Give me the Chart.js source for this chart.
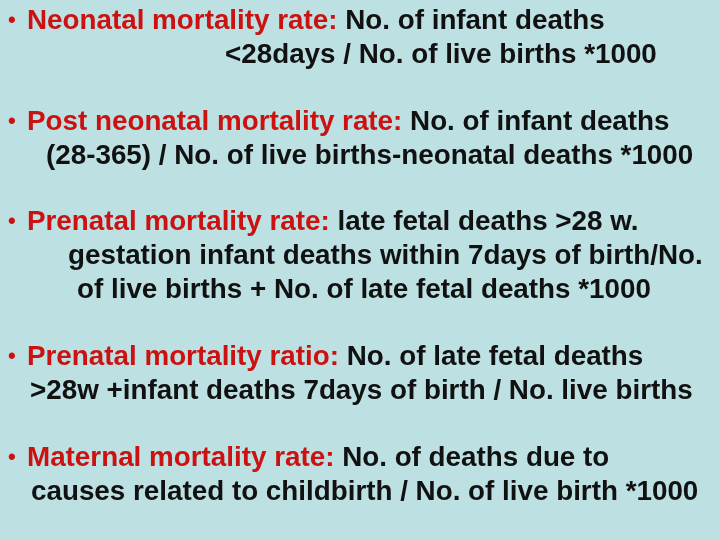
<!DOCTYPE html>
<html><head><meta charset="utf-8">
<script src="https://cdn.jsdelivr.net/npm/chart.js@4"></script>
<style>
html,body{margin:0;padding:0;}
body{width:720px;height:540px;background:#bde0e3;position:relative;overflow:hidden;font-family:"Liberation Sans",Arial,sans-serif;font-weight:bold;font-size:27.8px;color:#111;}
#c{position:absolute;left:0;top:0;}
.l{position:absolute;white-space:pre;line-height:34px;}
.r{color:#cc1111;}
.b{position:absolute;font-size:22px;line-height:34px;color:#cc1111;}
</style></head><body>
<canvas id="c" width="720" height="540"></canvas>
<div id="t"></div>
<script>
const bulletTops = [3, 104, 204, 339, 440];
const lines = [
  [27, 3, '<span class="r">Neonatal mortality rate:</span> No. of infant deaths'],
  [225, 37, '&lt;28days / No. of live births *1000'],
  [27, 104, '<span class="r">Post neonatal mortality rate:</span> No. of infant deaths'],
  [46, 138, '(28-365) / No. of live births-neonatal deaths *1000'],
  [27, 204, '<span class="r">Prenatal mortality rate:</span> late fetal deaths &gt;28 w.'],
  [68, 238, 'gestation infant deaths within 7days of birth/No.'],
  [77, 272, 'of live births + No. of late fetal deaths *1000'],
  [27, 339, '<span class="r">Prenatal mortality ratio:</span> No. of late fetal deaths'],
  [30, 373, '&gt;28w +infant deaths 7days of birth / No. live births'],
  [27, 440, '<span class="r">Maternal mortality rate:</span> No. of deaths due to'],
  [31, 474, 'causes related to childbirth / No. of live birth *1000']
];
const t = document.getElementById('t');
bulletTops.forEach(y=>{const d=document.createElement('div');d.className='b';d.style.left='8px';d.style.top=y+'px';d.textContent='•';t.appendChild(d);});
lines.forEach(([x,y,h])=>{const d=document.createElement('div');d.className='l';d.style.left=x+'px';d.style.top=y+'px';d.innerHTML=h;t.appendChild(d);});
new Chart(document.getElementById('c'),{type:'bar',data:{labels:[],datasets:[]},
 options:{responsive:false,animation:false,plugins:{legend:{display:false},tooltip:{enabled:false}},scales:{x:{display:false},y:{display:false}}}});
</script>
</body></html>
